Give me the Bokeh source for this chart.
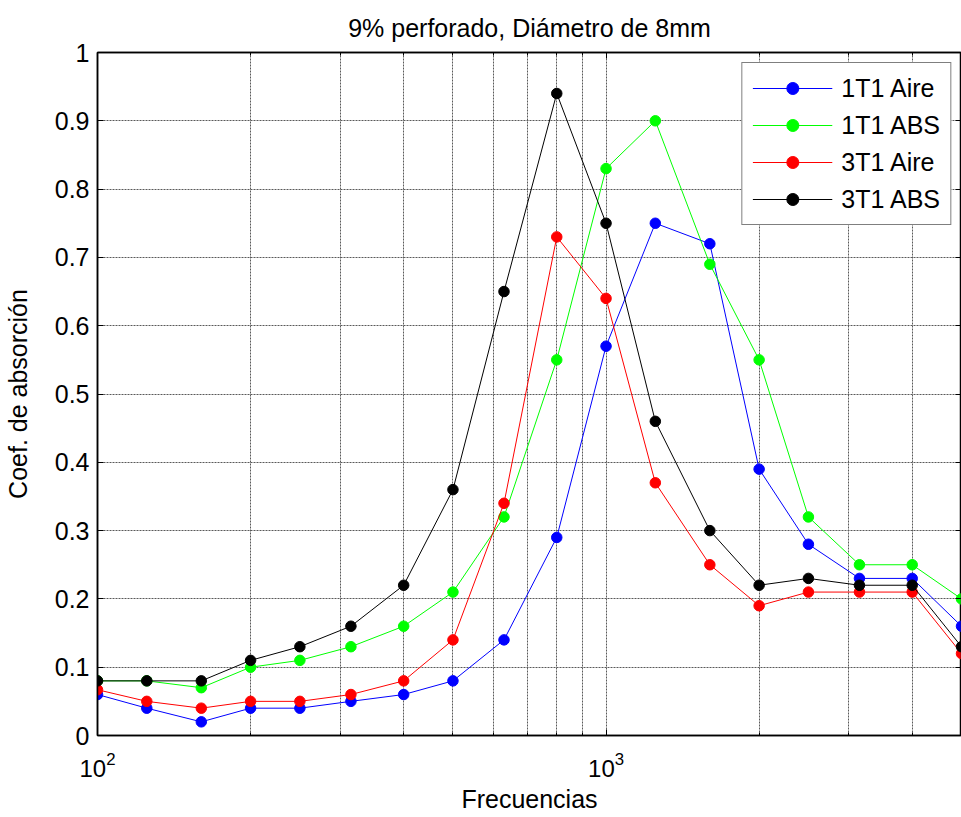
from bokeh.plotting import figure
from bokeh.models import (Range1d, FixedTicker, LogAxis, LinearAxis, LogTickFormatter,
                          NumeralTickFormatter, CustomJSTickFormatter, Legend, LegendItem)
from bokeh.embed import file_html
from bokeh.resources import INLINE

# Third-octave band centre frequencies (Hz)
freqs = [100, 125, 160, 200, 250, 315, 400, 500, 630, 800,
         1000, 1250, 1600, 2000, 2500, 3150, 4000, 5000]

# Absorption coefficients per sample
t1_aire = [0.06, 0.04, 0.02, 0.04, 0.04, 0.05, 0.06, 0.08, 0.14, 0.29,
           0.57, 0.75, 0.72, 0.39, 0.28, 0.23, 0.23, 0.16]
t1_abs = [0.08, 0.08, 0.07, 0.10, 0.11, 0.13, 0.16, 0.21, 0.32, 0.55,
          0.83, 0.90, 0.69, 0.55, 0.32, 0.25, 0.25, 0.20]
t3_aire = [0.067, 0.05, 0.04, 0.05, 0.05, 0.06, 0.08, 0.14, 0.34, 0.73,
           0.64, 0.37, 0.25, 0.19, 0.21, 0.21, 0.21, 0.12]
t3_abs = [0.08, 0.08, 0.08, 0.11, 0.13, 0.16, 0.22, 0.36, 0.65, 0.94,
          0.75, 0.46, 0.30, 0.22, 0.23, 0.22, 0.22, 0.13]

series_names = ["1T1 Aire", "1T1 ABS", "3T1 Aire", "3T1 ABS"]
series_values = [t1_aire, t1_abs, t3_aire, t3_abs]
series_colors = ["#0000FF", "#00FF00", "#FF0000", "#000000"]

x_major = [100, 1000]
x_minor = [200, 300, 400, 500, 600, 700, 800, 900, 2000, 3000, 4000]
y_ticks = [0, 0.1, 0.2, 0.3, 0.4, 0.5, 0.6, 0.7, 0.8, 0.9, 1]

FONT = "Liberation Sans"
FS = "25px"

p = figure(width=961, height=817, x_axis_type="log",
           x_range=Range1d(100, 5000), y_range=Range1d(0, 1),
           output_backend="svg", toolbar_location=None,
           min_border_left=97, min_border_right=0,
           min_border_top=52, min_border_bottom=82,
           title="9% perforado, Diámetro de 8mm")

p.title.align = "center"
p.title.text_font = FONT
p.title.text_font_size = FS
p.title.text_font_style = "normal"
p.title.text_color = "black"
p.title.standoff = 21
p.outline_line_color = "black"
p.outline_line_width = 1.5

xt = FixedTicker(ticks=x_major, minor_ticks=x_minor)
yt = FixedTicker(ticks=y_ticks)

xa = p.xaxis[0]
xa.ticker = xt
xa.formatter = LogTickFormatter()
xa.axis_label = "Frecuencias"
ya = p.yaxis[0]
ya.ticker = yt
ya.formatter = NumeralTickFormatter(format="0.[0]")
ya.axis_label = "Coef. de absorción"

for ax in (xa, ya):
    ax.axis_line_color = "black"
    ax.axis_line_width = 1.5
    ax.major_tick_in = 6
    ax.major_tick_out = 0
    ax.minor_tick_in = 3
    ax.minor_tick_out = 0
    ax.major_tick_line_color = "black"
    ax.minor_tick_line_color = "black"
    ax.major_label_text_font = FONT
    ax.major_label_text_font_size = FS
    ax.major_label_text_color = "black"
    ax.axis_label_text_font = FONT
    ax.axis_label_text_font_size = FS
    ax.axis_label_text_font_style = "normal"
    ax.axis_label_text_color = "black"

xa.major_label_text_font_size = "24px"
xa.major_label_standoff = 16
xa.axis_label_standoff = 5
ya.major_label_standoff = 8
ya.axis_label_standoff = 20

# box axes without labels on the top and right
blank = CustomJSTickFormatter(code="return ''")
top = LogAxis(ticker=xt, formatter=blank, major_tick_in=6, major_tick_out=0,
              minor_tick_in=3, minor_tick_out=0, axis_line_color="black",
              axis_line_width=1.5, major_label_standoff=0)
p.add_layout(top, "above")
right = LinearAxis(ticker=yt, formatter=blank, major_tick_in=6, major_tick_out=0,
                   minor_tick_in=0, minor_tick_out=0, axis_line_color="black",
                   axis_line_width=1.5, major_label_standoff=0)
p.add_layout(right, "right")

# dotted grid on major and minor decades
grid_color = "#5a5a5a"
p.xgrid.grid_line_color = grid_color
p.xgrid.grid_line_dash = "2 1"
p.xgrid.minor_grid_line_color = grid_color
p.xgrid.minor_grid_line_dash = "2 1"
p.ygrid.grid_line_color = grid_color
p.ygrid.grid_line_dash = "2 1"

items = []
for name, vals, col in zip(series_names, series_values, series_colors):
    ln = p.line(freqs, vals, line_color=col, line_width=1)
    sc = p.scatter(freqs, vals, marker="circle", size=10.5, fill_color=col, line_color=col)
    items.append(LegendItem(label=name, renderers=[ln, sc]))

legend = Legend(items=items, location="top_right", margin=10, padding=10,
                spacing=7, glyph_width=80, glyph_height=30, label_height=30,
                label_standoff=9, label_text_font=FONT, label_text_font_size=FS,
                label_text_color="black",
                border_line_color="black", border_line_width=1.5,
                background_fill_color="white", background_fill_alpha=1)
p.add_layout(legend, "center")

open("out.html", "w").write(file_html(p, INLINE))
